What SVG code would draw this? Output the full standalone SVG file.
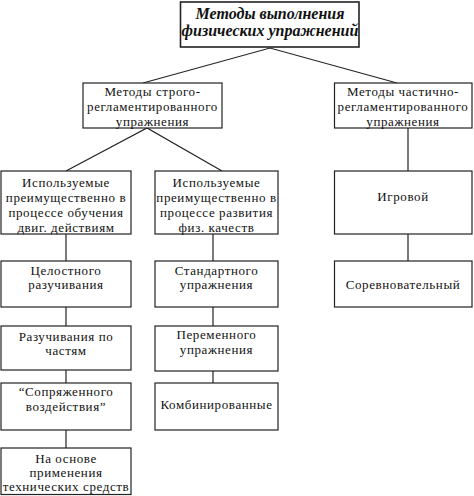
<svg xmlns="http://www.w3.org/2000/svg" width="474" height="496" viewBox="0 0 474 496">
<style>
.box{fill:#fff;stroke:#222;stroke-width:1.2}
.t{font-family:"Liberation Serif","DejaVu Serif",serif;font-size:13px;letter-spacing:0.6px;fill:#111;text-anchor:middle}
.h{font-family:"Liberation Serif","DejaVu Serif",serif;font-size:16px;font-weight:bold;font-style:italic;fill:#111;text-anchor:middle}
.c{stroke:#222;stroke-width:1.2;fill:none}
</style>
<rect width="474" height="496" fill="#fff"/>
<g id="connectors">
<polyline class="c" points="143,83 270,48 397,83"/>
<polyline class="c" points="66,171 147,128 222,171"/>
<line class="c" x1="408" y1="128" x2="408" y2="171"/>
<line class="c" x1="408" y1="234" x2="408" y2="261"/>
<line class="c" x1="66" y1="234" x2="66" y2="261"/>
<line class="c" x1="66" y1="307" x2="66" y2="326"/>
<line class="c" x1="66" y1="370" x2="66" y2="383"/>
<line class="c" x1="66" y1="430" x2="66" y2="448"/>
<line class="c" x1="213" y1="234" x2="213" y2="261"/>
<line class="c" x1="213" y1="307" x2="213" y2="326"/>
<line class="c" x1="213" y1="371" x2="213" y2="383"/>
</g>
<g id="root">
<rect class="box" x="180.5" y="2" width="178.5" height="45" style="stroke-width:1.6"/>
<text class="h" x="270" y="19">Методы выполнения</text>
<text class="h" x="270" y="36">физических упражнений</text>
</g>
<g id="strict">
<rect class="box" x="83" y="83" width="139" height="45"/>
<text class="t" x="152.5" y="96">Методы строго-</text>
<text class="t" x="152.5" y="111">регламентированного</text>
<text class="t" x="152.5" y="126">упражнения</text>
</g>
<g id="partial">
<rect class="box" x="334.5" y="83" width="137.5" height="45"/>
<text class="t" x="403" y="96">Методы частично-</text>
<text class="t" x="403" y="111">регламентированного</text>
<text class="t" x="403" y="126">упражнения</text>
</g>
<g id="learning">
<rect class="box" x="1" y="171" width="130" height="63"/>
<text class="t" x="66" y="187">Используемые</text>
<text class="t" x="66" y="202">преимущественно в</text>
<text class="t" x="66" y="217">процессе обучения</text>
<text class="t" x="66" y="232">двиг. действиям</text>
</g>
<g id="development">
<rect class="box" x="155" y="171" width="123" height="63"/>
<text class="t" x="216.5" y="187">Используемые</text>
<text class="t" x="216.5" y="202">преимущественно в</text>
<text class="t" x="216.5" y="217">процессе развития</text>
<text class="t" x="216.5" y="232">физ. качеств</text>
</g>
<g id="game">
<rect class="box" x="334.5" y="171" width="137.5" height="63"/>
<text class="t" x="403" y="201">Игровой</text>
</g>
<g id="competitive">
<rect class="box" x="334.5" y="261" width="137.5" height="46"/>
<text class="t" x="403" y="289">Соревновательный</text>
</g>
<g id="whole">
<rect class="box" x="1" y="261" width="130" height="46"/>
<text class="t" x="66" y="275">Целостного</text>
<text class="t" x="66" y="289">разучивания</text>
</g>
<g id="parts">
<rect class="box" x="1" y="326" width="130" height="44"/>
<text class="t" x="66" y="341">Разучивания по</text>
<text class="t" x="66" y="355">частям</text>
</g>
<g id="conjugate">
<rect class="box" x="1" y="383" width="130" height="47"/>
<text class="t" x="66" y="396">“Сопряженного</text>
<text class="t" x="66" y="411">воздействия”</text>
</g>
<g id="technical">
<rect class="box" x="1" y="448" width="130" height="46.5"/>
<text class="t" x="66" y="463">На основе</text>
<text class="t" x="66" y="477">применения</text>
<text class="t" x="66" y="491">технических средств</text>
</g>
<g id="standard">
<rect class="box" x="155" y="261" width="123" height="46"/>
<text class="t" x="216.5" y="275">Стандартного</text>
<text class="t" x="216.5" y="289">упражнения</text>
</g>
<g id="variable">
<rect class="box" x="155" y="326" width="123" height="45"/>
<text class="t" x="216.5" y="339">Переменного</text>
<text class="t" x="216.5" y="354">упражнения</text>
</g>
<g id="combined">
<rect class="box" x="155" y="383" width="123" height="47"/>
<text class="t" x="216.5" y="409">Комбинированные</text>
</g>
</svg>
